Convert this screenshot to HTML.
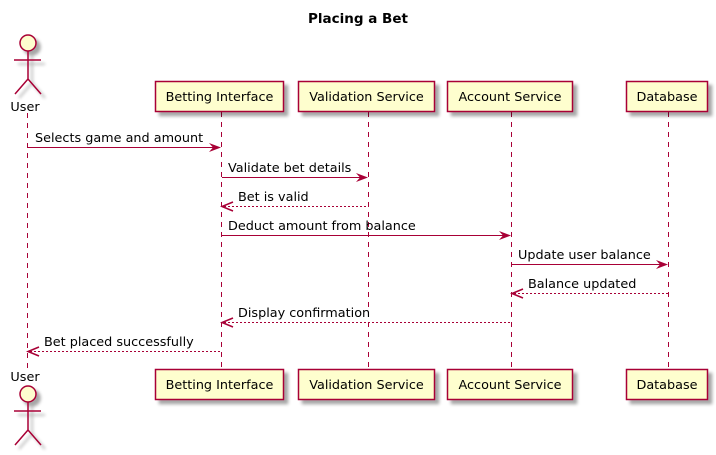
<!DOCTYPE html>
<html><head><style>body{margin:0;background:#fff}svg{display:block}text{font-family:"DejaVu Sans","Liberation Sans",sans-serif}</style></head><body>
<svg width="716" height="455" viewBox="0 0 716 455" xmlns="http://www.w3.org/2000/svg">
<defs>
<filter id="sh" x="-20%" y="-20%" width="150%" height="160%"><feGaussianBlur in="SourceAlpha" stdDeviation="1.5"/><feOffset dx="4" dy="4"/><feComponentTransfer><feFuncA type="linear" slope="0.35"/></feComponentTransfer><feMerge><feMergeNode/><feMergeNode in="SourceGraphic"/></feMerge></filter>
</defs>
<text x="358" y="23" font-size="13.5" font-weight="bold" text-anchor="middle">Placing a Bet</text>
<g stroke="#A80036" stroke-width="1" stroke-dasharray="5,5">
<line x1="27.5" y1="113" x2="27.5" y2="369"/>
<line x1="221.5" y1="112" x2="221.5" y2="369"/>
<line x1="368.5" y1="112" x2="368.5" y2="369"/>
<line x1="511.5" y1="112" x2="511.5" y2="369"/>
<line x1="668.5" y1="112" x2="668.5" y2="369"/>
</g>
<g fill="#FEFECE" stroke="#A80036" stroke-width="1.5" filter="url(#sh)">
<rect x="155.5" y="81.5" width="128" height="30"/>
<rect x="298.5" y="81.5" width="136" height="30"/>
<rect x="447.5" y="81.5" width="125" height="30"/>
<rect x="626.5" y="81.5" width="81" height="30"/>
<rect x="155.5" y="369.5" width="128" height="30"/>
<rect x="298.5" y="369.5" width="136" height="30"/>
<rect x="447.5" y="369.5" width="125" height="30"/>
<rect x="626.5" y="369.5" width="81" height="30"/>
</g>
<g font-size="12.8" text-anchor="middle">
<text x="219.5" y="101">Betting Interface</text>
<text x="366.5" y="101">Validation Service</text>
<text x="510" y="101">Account Service</text>
<text x="667" y="101">Database</text>
<text x="219.5" y="389">Betting Interface</text>
<text x="366.5" y="389">Validation Service</text>
<text x="510" y="389">Account Service</text>
<text x="667" y="389">Database</text>
<text x="25" y="111">User</text>
<text x="25" y="381">User</text>
</g>
<g fill="#FEFECE" stroke="#A80036" stroke-width="1.5" filter="url(#sh)">
<circle cx="28" cy="43" r="8"/>
<path d="M28 51 V79 M14 60 H41 M28 79 L15 94 M28 79 L41 94" fill="none"/>
<circle cx="28" cy="394" r="8"/>
<path d="M28 402 V430 M14 411 H41 M28 430 L15 445 M28 430 L41 445" fill="none"/>
</g>
<g stroke="#A80036" stroke-width="1" fill="none">
<line x1="28" y1="147.5" x2="219" y2="147.5"/>
<line x1="222" y1="177.5" x2="366" y2="177.5"/>
<line x1="224" y1="206.5" x2="368" y2="206.5" stroke-dasharray="2,2"/>
<line x1="222" y1="235.5" x2="509" y2="235.5"/>
<line x1="512" y1="264.5" x2="666" y2="264.5"/>
<line x1="514" y1="293.5" x2="668" y2="293.5" stroke-dasharray="2,2"/>
<line x1="224" y1="322.5" x2="511" y2="322.5" stroke-dasharray="2,2"/>
<line x1="30" y1="351.5" x2="221" y2="351.5" stroke-dasharray="2,2"/>
</g>
<g fill="#A80036">
<path d="M221 147.5 L209 143 L213 147.5 L209 152 Z"/>
<path d="M368 177.5 L356 173 L360 177.5 L356 182 Z"/>
<path d="M511 235.5 L499 231 L503 235.5 L499 240 Z"/>
<path d="M668 264.5 L656 260 L660 264.5 L656 269 Z"/>
</g>
<g stroke="#A80036" stroke-width="1.5" fill="none">
<path d="M233 202 L222 206.5 L233 211"/>
<path d="M523 289 L512 293.5 L523 298"/>
<path d="M233 318 L222 322.5 L233 327"/>
<path d="M39 347 L28 351.5 L39 356"/>
</g>
<g font-size="12.8">
<text x="35" y="142">Selects game and amount</text>
<text x="228" y="172">Validate bet details</text>
<text x="238" y="201">Bet is valid</text>
<text x="228" y="230">Deduct amount from balance</text>
<text x="518" y="259">Update user balance</text>
<text x="528" y="288">Balance updated</text>
<text x="238" y="317">Display confirmation</text>
<text x="44" y="346">Bet placed successfully</text>
</g>
</svg>
</body></html>
